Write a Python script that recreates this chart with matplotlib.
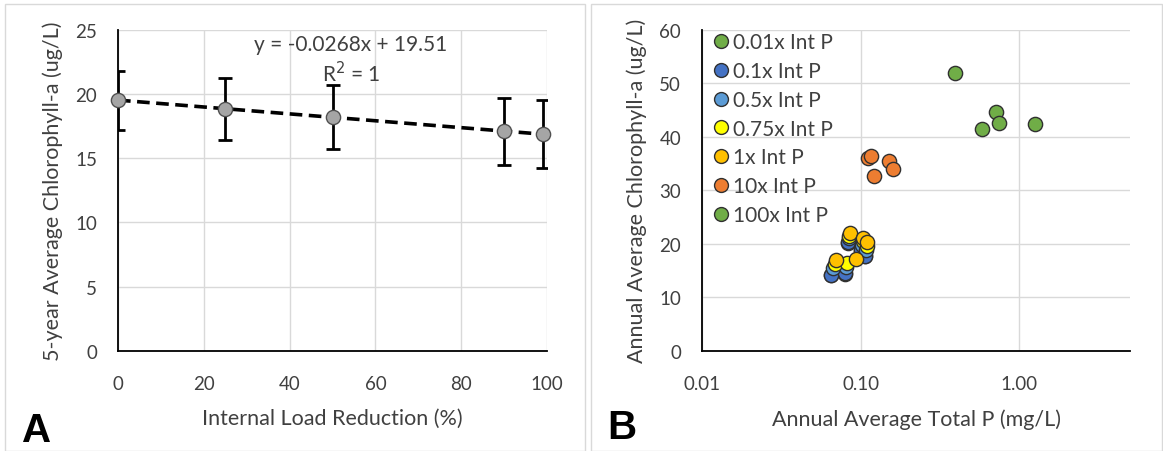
import matplotlib
matplotlib.use('Agg')
import matplotlib.pyplot as plt
import numpy as np
from matplotlib.patches import Rectangle
from matplotlib.lines import Line2D

plt.rcParams['font.family'] = ['Lato', 'DejaVu Sans']
FS = 13.5      # tick labels
FS_LAB = 15.5  # axis titles
FS_TXT = 15    # legend / equation

### DATA

# panel A
reduction = np.array([0, 25, 50, 90, 99])
chla_5yr = np.array([19.51, 18.84, 18.17, 17.10, 16.86])
chla_err = np.array([2.3, 2.4, 2.5, 2.6, 2.65])

# panel B (5 years per scenario)
labels_b = ['0.01x Int P', '0.1x Int P', '0.5x Int P', '0.75x Int P',
            '1x Int P', '10x Int P', '100x Int P']
colors_b = ['#70AD47', '#4472C4', '#5B9BD5', '#FFFF00',
            '#FFC000', '#ED7D31', '#70AD47']
tp_b = [
    [0.083, 0.100, 0.107, 0.065, 0.080],
    [0.083, 0.100, 0.107, 0.065, 0.080],
    [0.084, 0.102, 0.108, 0.067, 0.081],
    [0.085, 0.103, 0.109, 0.069, 0.082],
    [0.086, 0.104, 0.110, 0.070, 0.094],
    [0.112, 0.117, 0.152, 0.160, 0.121],
    [0.394, 0.713, 0.748, 0.587, 1.26],
]
chl_b = [
    [20.2, 18.7, 17.7, 14.1, 14.4],
    [20.3, 18.8, 17.8, 14.2, 14.5],
    [21.0, 19.8, 18.8, 15.4, 15.6],
    [21.5, 20.5, 19.6, 16.3, 16.5],
    [22.0, 21.0, 20.3, 17.0, 17.2],
    [36.1, 36.4, 35.5, 34.0, 32.6],
    [51.9, 44.6, 42.5, 41.4, 42.3],
]

### PLOT

W, H = 1163, 452
fig = plt.figure(figsize=(W / 100, H / 100), dpi=100)

# chart-area borders
fig.patches.append(Rectangle((5 / W, 0), 580 / W, 447 / H, transform=fig.transFigure,
                             fill=False, ec='#d9d9d9', lw=1))
fig.patches.append(Rectangle((591 / W, 0), 571 / W, 447 / H, transform=fig.transFigure,
                             fill=False, ec='#d9d9d9', lw=1))

axA = fig.add_axes([118 / W, 1 - 352 / H, 429 / W, 321.5 / H])
axB = fig.add_axes([702 / W, 1 - 352 / H, 428 / W, 321.5 / H])

for ax in (axA, axB):
    ax.grid(True, color='#d9d9d9', lw=1)
    ax.set_axisbelow(True)
    for s in ('top', 'right'):
        ax.spines[s].set_visible(False)
    for s in ('left', 'bottom'):
        ax.spines[s].set_linewidth(1.3)
    ax.tick_params(length=0, labelsize=FS, colors='#404040')
    ax.tick_params(axis='x', pad=17)
    ax.tick_params(axis='y', pad=15)

# A
axA.errorbar(reduction, chla_5yr, yerr=chla_err, fmt='none', ecolor='black',
             elinewidth=2, capsize=5, capthick=2, zorder=3)
m, b = np.polyfit(reduction, chla_5yr, 1)
xx = np.array([reduction.min(), reduction.max()])
axA.plot(xx, m * xx + b, color='black', lw=2.6, ls=(0, (3.5, 1.8)), zorder=4)
axA.scatter(reduction, chla_5yr, s=105, c='#A5A5A5', edgecolors='#505050',
            linewidths=1, zorder=5, clip_on=False)
axA.set_xlim(0, 100)
axA.set_ylim(0, 25)
axA.set_xticks(np.arange(0, 101, 20))
axA.set_yticks(np.arange(0, 26, 5))
axA.text(54.3, 23.9, 'y = -0.0268x + 19.51', ha='center', va='center',
         fontsize=FS_TXT, color='#404040')
axA.text(54.3, 21.65, 'R$^2$ = 1', ha='center', va='center',
         fontsize=FS_TXT, color='#404040')
axA.set_ylabel('5-year Average Chlorophyll-a (ug/L)', fontsize=FS_LAB, color='#404040', labelpad=9)
axA.set_xlabel('Internal Load Reduction (%)', fontsize=FS_LAB, color='#404040', labelpad=12)

# B
for xs, ys, c, lab in zip(tp_b, chl_b, colors_b, labels_b):
    axB.scatter(xs, ys, s=105, c=c, edgecolors='#303030', linewidths=1,
                zorder=3, label=lab)
axB.set_xscale('log')
axB.set_xlim(0.01, 5)
axB.set_ylim(0, 60)
axB.set_xticks([0.01, 0.1, 1.0])
axB.set_xticklabels(['0.01', '0.10', '1.00'])
axB.xaxis.set_minor_locator(matplotlib.ticker.NullLocator())
axB.set_yticks(np.arange(0, 61, 10))
axB.set_ylabel('Annual Average Chlorophyll-a (ug/L)', fontsize=FS_LAB, color='#404040', labelpad=9)
axB.set_xlabel('Annual Average Total P (mg/L)', fontsize=FS_LAB, color='#404040', labelpad=12)

handles = [Line2D([], [], ls='none', marker='o', ms=10, mfc=c, mec='#303030', mew=1)
           for c in colors_b]
axB.legend(handles, labels_b, loc='upper left', bbox_to_anchor=(0.0, 1.03),
           frameon=False, fontsize=FS_TXT, handlelength=0.6, handletextpad=0.3,
           labelspacing=0.42, borderaxespad=0.2, labelcolor='#404040')

fig.text(22 / W, 1 - 431 / H, 'A', fontsize=29, fontweight='bold',
         family='Liberation Sans', va='center', ha='left')
fig.text(607 / W, 1 - 428 / H, 'B', fontsize=29, fontweight='bold',
         family='Liberation Sans', va='center', ha='left')

fig.savefig('out.png', dpi=100)
